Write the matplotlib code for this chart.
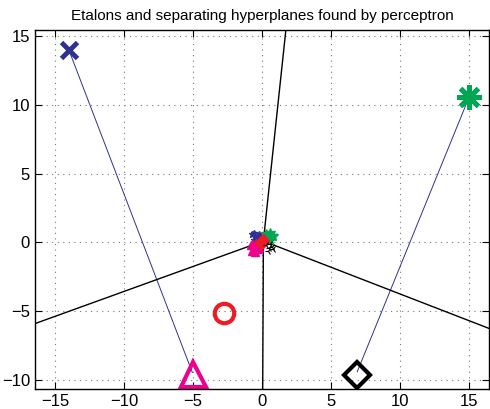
import matplotlib.pyplot as plt
import numpy as np

# etalons (class prototypes)
etalon_x = [-14.0, 15.0, -2.75, -5.0, 6.9]
etalon_y = [14.0, 10.55, -5.15, -9.55, -9.65]
etalon_markers = ['x', '*', 'o', '^', 'D']
etalon_colors = ['#2e3192', '#00a651', '#ed1c24', '#ec008c', '#000000']

# training points near the origin, one cluster per class
blue_x = [-0.7, -0.5, -0.3, -0.6, -0.4, -0.2, -0.55, -0.35]
blue_y = [0.6, 0.4, 0.5, 0.2, 0.3, 0.6, 0.7, 0.1]
green_x = [0.3, 0.5, 0.7, 0.4, 0.6, 0.8, 0.55, 0.35]
green_y = [0.6, 0.4, 0.5, 0.3, 0.7, 0.45, 0.2, 0.2]
magenta_x = [-0.8, -0.6, -0.4, -0.7, -0.5, -0.3, -0.65, -0.45, -0.2]
magenta_y = [-0.2, -0.4, -0.3, -0.6, -0.7, -0.5, -0.1, -0.05, -0.3]
red_x = [-0.2, 0.0, 0.1, -0.1, 0.2, 0.05]
red_y = [0.0, 0.2, -0.1, -0.2, 0.1, 0.3]
black_x = [0.3, 0.5, 0.7, 0.4, 0.6, 0.8]
black_y = [-0.2, -0.4, -0.3, -0.6, -0.1, -0.5]

# separating hyperplanes: from the junction to the axes border
hyp_start = (0.1, 0.1)
hyp_ends_x = [1.73, 0.05, -16.45, 16.45]
hyp_ends_y = [15.45, -10.65, -5.9, -6.25]

# thin blue links between etalons
link_x = [[-14.0, -5.05], [15.0, 6.9]]
link_y = [[14.0, -9.45], [10.55, -9.4]]

plt.rcParams['font.family'] = ['Liberation Sans', 'DejaVu Sans']
fig = plt.figure(figsize=(4.9, 4.09), dpi=100)
ax = fig.add_axes([0.0714, 0.049, 0.9266, 0.878])

for lx, ly in zip(link_x, link_y):
    ax.plot(lx, ly, color='#2e3192', lw=0.7)

for ex, ey in zip(hyp_ends_x, hyp_ends_y):
    ax.plot([hyp_start[0], ex], [hyp_start[1], ey], color='k', lw=1.0)

ax.plot(blue_x, blue_y, '*', color='#2e3192', ms=5)
ax.plot(green_x, green_y, '*', color='#00a651', ms=7)
ax.plot(magenta_x, magenta_y, '^', color='#ec008c', ms=6)
ax.plot(red_x, red_y, 'D', color='#ed1c24', ms=4)
ax.plot(black_x, black_y, '3', color='k', ms=5, mew=0.8)

sizes = {'x': 11, '*': 18, 'o': 14, '^': 18, 'D': 13}
for x, y, m, c in zip(etalon_x, etalon_y, etalon_markers, etalon_colors):
    if m == 'x':
        ax.plot(x, y, marker='x', color=c, ms=sizes[m], mew=3.5)
    elif m == '*':
        ax.plot(x, y, marker=(8, 2, 0), color=c, ms=sizes[m], mew=3.5)
    else:
        ax.plot(x, y, marker=m, color=c, ms=sizes[m], mfc='none', mew=3)

ax.set_xlim(-16.45, 16.45)
ax.set_ylim(-10.65, 15.45)
ax.set_xticks(np.arange(-15, 16, 5))
ax.set_yticks(np.arange(-10, 16, 5))
ax.grid(True, linestyle=(0, (1, 4)), color='#777777', lw=0.8)
ax.tick_params(direction='in', top=True, right=True, labelsize=12, length=5)
for s in ax.spines.values():
    s.set_linewidth(1.0)
ax.set_title('Etalons and separating hyperplanes found by perceptron', fontsize=11, pad=7)

fig.savefig('out.png', dpi=100)
